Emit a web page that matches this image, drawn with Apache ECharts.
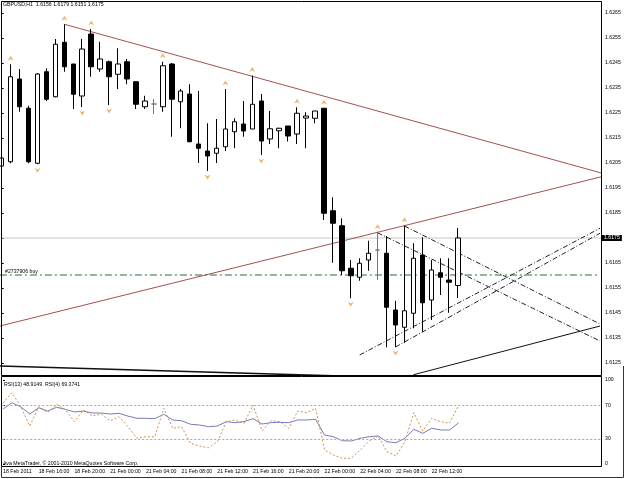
<!DOCTYPE html>
<html><head><meta charset="utf-8">
<script src="https://cdn.jsdelivr.net/npm/echarts@6/dist/echarts.min.js"></script>
<style>html,body{margin:0;padding:0;background:#fff}#c{width:625px;height:479px}</style>
</head><body><div id="c"></div>
<script>
// ---- data ----
const symbolName = 'GBPUSD,H1';
const opens  = [1.62038,1.62055,1.62386,1.62269,1.62049,1.62415,1.62315,1.62533,1.62446,1.62318,1.62566,1.62426,1.62455,1.62405,1.62455,1.62375,1.62275,1.62286,1.62275,1.62446,1.62295,1.62326,1.62126,1.62098,1.62089,1.62115,1.62175,1.62206,1.62186,1.62298,1.62146,1.62179,1.62198,1.62166,1.62230,1.62229,1.62269,1.61859,1.61799,1.61629,1.61593,1.61662,1.61702,1.61689,1.61462,1.61393,1.61449,1.61682,1.61502,1.61611,1.61582,1.6156];
const highs  = [1.62222,1.62445,1.62426,1.62279,1.62410,1.62429,1.62546,1.62605,1.62446,1.62546,1.62586,1.62535,1.62460,1.62509,1.62466,1.62378,1.62319,1.62306,1.62455,1.62450,1.62346,1.62365,1.62338,1.62209,1.62226,1.62346,1.62229,1.62298,1.62400,1.62326,1.62258,1.62191,1.62198,1.62273,1.62253,1.62258,1.62269,1.61913,1.61829,1.61662,1.61669,1.61739,1.61771,1.61758,1.61499,1.61798,1.61729,1.61753,1.61662,1.61669,1.61669,1.6179];
const lows   = [1.61914,1.62049,1.62255,1.62049,1.62045,1.62298,1.62313,1.62415,1.62266,1.62274,1.62395,1.62415,1.62282,1.62346,1.62365,1.62266,1.62266,1.62246,1.62255,1.62155,1.62189,1.62133,1.62050,1.62018,1.62050,1.62098,1.62109,1.62155,1.62186,1.62082,1.62126,1.62109,1.62136,1.62126,1.62109,1.62209,1.61822,1.61651,1.61602,1.61509,1.61579,1.61619,1.61582,1.61313,1.61314,1.61331,1.61389,1.61375,1.61422,1.61522,1.61451,1.6151];
const closes = [1.62070,1.62395,1.62275,1.62055,1.62406,1.62305,1.62525,1.62435,1.62325,1.62506,1.62435,1.62466,1.62395,1.62446,1.62386,1.62285,1.62298,1.62286,1.62439,1.62305,1.62338,1.62135,1.62109,1.62078,1.62109,1.62186,1.62215,1.62178,1.62285,1.62138,1.62187,1.62189,1.62158,1.62249,1.62238,1.62258,1.61849,1.61809,1.61619,1.61599,1.61649,1.61689,1.61702,1.61473,1.61402,1.61459,1.61669,1.61491,1.61622,1.61593,1.61573,1.6175];
const rsi13 = [65.5,73,68,59.5,67,63,67.5,65,62,63,60.7,60.7,59.5,60.3,57,54.4,54.4,54,59.2,52.4,51.5,47.3,46.4,44.4,45.2,50.4,49.2,50.4,54,47.6,49.2,49.6,49.2,52.4,52.4,53.2,34.5,32.5,27.7,27.4,30.6,32.5,33.3,26.5,25.4,30.6,41.3,36.5,42.5,40.5,40.5,48.9149];
const rsi4  = [72.3,84.9,68.2,45.2,68.2,61.1,71.1,64.3,50.4,64.3,57.1,59.5,51.5,56.3,44.4,30.6,32.5,32.5,66.3,42.5,44.4,24.6,21.4,19.4,26.5,50.4,52.4,48.5,70.2,39.6,51.5,50.4,42.5,63.1,61.1,66.3,16.7,10.7,6.8,6.8,16.7,27.4,33.3,14.6,9.5,26.5,61.1,39.3,54.4,50.4,48.5,69.3741];
const upFractals   = [1,7,10,18,25,28,33,36,42,45];
const downFractals = [4,9,12,23,29,39,44];
const timeLabelIdx = [0,4,8,12,16,20,24,28,32,36,40,44,48];
const timeLabels = ['18 Feb 2011','18 Feb 16:00','18 Feb 20:00','21 Feb 00:00','21 Feb 04:00','21 Feb 08:00','21 Feb 12:00','21 Feb 16:00','21 Feb 20:00','22 Feb 00:00','22 Feb 04:00','22 Feb 08:00','22 Feb 12:00'];
const priceTicks = [1.6125,1.6135,1.6145,1.6155,1.6165,1.6175,1.6185,1.6195,1.6205,1.6215,1.6225,1.6235,1.6245,1.6255,1.6265];
const rsiTicks = [0,30,70,100];
const rsiLevels = [70,30];
// trend lines as [barIndex, price] endpoints
const resistLine = [[7,1.62605],[67,1.6201]];
const supportLine = [[-0.2,1.61398],[67,1.61995]];
const dashDown1 = [[42,1.61771],[66.85,1.61338]];
const dashDown2 = [[45,1.61798],[66.85,1.61406]];
const dashUp1 = [[40,1.61282],[66.85,1.61789]];
const dashUp2 = [[44,1.61314],[66.85,1.61769]];
const solidUp = [[46,1.61203],[66.85,1.61398]];
const bottomLine = [[-0.2,1.61238],[37,1.61199]];
const buyOrderPrice = 1.61602;
const buyOrderSpan = [-0.2,66.6];
const buyOrderLabel = '#2737906 buy';

// ---- chart ----
const N = closes.length;
const kMin = -0.078, kMax = 66.96;
const chart = echarts.init(document.getElementById('c'), null, {renderer:'canvas'});
const FS = 5.2, FF = '"Liberation Sans", Arial, sans-serif';
const candleData = opens.map((o,i)=>[i,o,closes[i],lows[i],highs[i]]);
const upPath = 'path://M5,0 L10,9 L5,6 L0,9 Z';
const downPath = 'path://M0,0 L5,3 L10,0 L5,9 Z';
const fracColor = '#e6a043';
function seg(data, color, type, width, z){
  return {type:'line', xAxisIndex:0, yAxisIndex:0, data:data, showSymbol:false, symbol:'none',
    lineStyle:{color:color, type:type, width:width||1}, z:z||3, silent:true, animation:false};
}
const dashDot = [5,2,1,2];
const bidSeries = seg([[kMin,closes[N-1]],[kMax,closes[N-1]]], '#c8c8c8', 'solid', 1, 1);
bidSeries.endLabel = {show:true, distance:1, formatter:closes[N-1].toFixed(4), backgroundColor:'#000', color:'#fff',
  fontSize:5.2, fontFamily:'"Liberation Sans", Arial, sans-serif', padding:[1,2,0,2]};
bidSeries.clip = false;
const option = {
  animation:false,
  backgroundColor:'#fff',
  grid:[
    {left:1, top:1, width:600, height:374, show:false},
    {left:1, top:376, width:600, height:90, show:false}
  ],
  xAxis:[
    {gridIndex:0, type:'value', min:kMin, max:kMax, axisLine:{show:false}, axisTick:{show:false}, axisLabel:{show:false}, splitLine:{show:false}},
    {gridIndex:1, type:'value', min:kMin, max:kMax, axisLine:{show:false}, axisTick:{show:false}, splitLine:{show:false},
      axisLabel:{show:true, customValues:timeLabelIdx, align:'left', margin:3, fontSize:FS, fontFamily:FF, color:'#000',
        formatter:v=>{const j=timeLabelIdx.indexOf(Math.round(v)); return j>=0?timeLabels[j]:'';}}}
  ],
  yAxis:[
    {gridIndex:0, type:'value', position:'right', min:1.61202, max:1.62698, scale:true, splitLine:{show:false}, axisLine:{show:false},
      axisTick:{show:true, customValues:priceTicks, length:2, lineStyle:{color:'#000'}},
      axisLabel:{show:true, customValues:priceTicks, margin:4, fontSize:FS, fontFamily:FF, color:'#000', formatter:v=>v.toFixed(4)}},
    {gridIndex:1, type:'value', position:'right', min:-2.381, max:104.76, splitLine:{show:false}, axisLine:{show:false},
      axisTick:{show:true, customValues:rsiTicks, length:2, lineStyle:{color:'#000'}},
      axisLabel:{show:true, customValues:rsiTicks, margin:4, fontSize:FS, fontFamily:FF, color:'#000'}}
  ],
  series:[
    bidSeries,
    seg(resistLine, '#a4504c', 'solid', 1, 2),
    seg(supportLine, '#a4504c', 'solid', 1, 2),
    seg(dashDown1, '#222', dashDot, 1, 2),
    seg(dashDown2, '#222', dashDot, 1, 2),
    seg(dashUp1, '#222', dashDot, 1, 2),
    seg(dashUp2, '#222', dashDot, 1, 2),
    seg(solidUp, '#111', 'solid', 1, 2),
    seg(bottomLine, '#111', 'solid', 1.6, 2),
    seg(buyOrderSpan.map(k=>[k,buyOrderPrice]), '#2f6a34', [7,3,2,3], 1, 2),
    {type:'candlestick', xAxisIndex:0, yAxisIndex:0, data:candleData, encode:{x:0,y:[1,2,3,4]}, barWidth:5, z:4,
      itemStyle:{color:'#fff', color0:'#000', borderColor:'#000', borderColor0:'#000', borderColorDoji:'#777', borderWidth:1}},
    {type:'scatter', xAxisIndex:0, yAxisIndex:0, data:upFractals.map(i=>[i,highs[i]]), symbol:upPath, symbolSize:[6,5], symbolOffset:[0,-6],
      itemStyle:{color:fracColor}, z:5, silent:true},
    {type:'scatter', xAxisIndex:0, yAxisIndex:0, data:downFractals.map(i=>[i,lows[i]]), symbol:downPath, symbolSize:[6,5], symbolOffset:[0,6],
      itemStyle:{color:fracColor}, z:5, silent:true},
    {type:'line', xAxisIndex:1, yAxisIndex:1, data:rsi13.map((v,i)=>[i,v]), showSymbol:false, symbol:'none',
      lineStyle:{color:'#7a7ab8', width:1}, z:3,
      markLine:{silent:true, symbol:['none','none'], label:{show:false}, lineStyle:{color:'#a8a8a8', type:[2,2], width:1},
        data:rsiLevels.map(v=>({yAxis:v}))}},
    {type:'line', xAxisIndex:1, yAxisIndex:1, data:rsi4.map((v,i)=>[i,v]), showSymbol:false, symbol:'none',
      lineStyle:{color:'#cf9150', type:[2,2], width:1}, z:3}
  ],
  graphic:[
    {type:'rect', silent:true, z:50, shape:{x:1.5,y:1.5,width:600,height:374}, style:{fill:null, stroke:'#000', lineWidth:1}},
    {type:'rect', silent:true, z:50, shape:{x:1.5,y:376.5,width:600,height:90}, style:{fill:null, stroke:'#000', lineWidth:1}},
    {type:'polyline', silent:true, z:50, shape:{points:[[1.5,466],[1.5,477.5],[623.5,477.5],[623.5,366]]}, style:{fill:null, stroke:'#333', lineWidth:1}},
    {type:'text', silent:true, z:60, left:3, top:2.5, style:{text:symbolName+'  '+opens[N-1].toFixed(4)+' '+highs[N-1].toFixed(4)+' '+lows[N-1].toFixed(4)+' '+closes[N-1].toFixed(4), fontSize:FS, fontFamily:FF, fill:'#000'}},
    {type:'text', silent:true, z:60, left:4, top:382, style:{text:'RSI(13) '+rsi13[N-1].toFixed(4)+'  RSI(4) '+rsi4[N-1].toFixed(4), fontSize:FS, fontFamily:FF, fill:'#000'}},
    {type:'text', silent:true, z:60, left:3, top:461.5, style:{text:'Ava MetaTrader, \u00a9 2001-2010 MetaQuotes Software Corp.', fontSize:FS, fontFamily:FF, fill:'#000'}},
    {type:'text', silent:true, z:60, left:5, top:269.5, style:{text:buyOrderLabel, fontSize:FS, fontFamily:FF, fill:'#000'}}
  ]
};
chart.setOption(option);
</script>
</body></html>
